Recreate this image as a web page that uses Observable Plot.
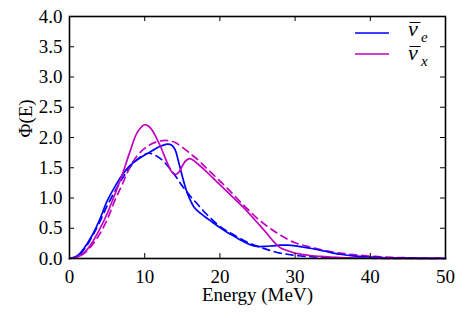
<!DOCTYPE html>
<html>
<head>
<meta charset="utf-8">
<script src="https://cdn.jsdelivr.net/npm/d3@7"></script>
<script src="https://cdn.jsdelivr.net/npm/@observablehq/plot@0.6"></script>
<style>
  body { margin: 0; background: #fff; font-family: "Liberation Serif", serif; }
  #wrap { position: relative; width: 463px; height: 324px; }
  #wrap svg text { font-family: "Liberation Serif", serif !important; }
  #legend { position: absolute; left: 0; top: 0; pointer-events: none; }
</style>
</head>
<body>
<div id="wrap"></div>
<script>
// ---- data ----
const xTicks = [0, 10, 20, 30, 40, 50];
const yTicks = [0, 0.5, 1, 1.5, 2, 2.5, 3, 3.5, 4];

// anti-electron neutrino, simulated spectrum (solid blue)
const nueSimE   = [0,1,2,3,4,5,6,7,8,9,10,11,12,13,13.5,14,14.5,15,15.5,16,16.5,17,18,19,20,21,22,23,24,25,26,27,28,29,30,31,32,34,36,38,40,42,45,50];
const nueSimPhi = [0,0.04,0.18,0.38,0.64,0.95,1.18,1.38,1.53,1.63,1.71,1.78,1.85,1.89,1.88,1.81,1.60,1.36,1.14,0.98,0.86,0.79,0.69,0.60,0.51,0.43,0.36,0.29,0.23,0.20,0.20,0.21,0.22,0.22,0.21,0.19,0.17,0.12,0.07,0.04,0.025,0.012,0.005,0];

// anti-electron neutrino, fit (dashed blue)
const nueFitE   = [0,1,2,3,4,5,6,7,8,9,10,10.5,11,12,13,14,15,16,17,18,19,20,21,22,23,24,25,26,27,28,29,30,32,34,36,40,45,50];
const nueFitPhi = [0,0.03,0.16,0.36,0.60,0.87,1.10,1.32,1.50,1.64,1.72,1.74,1.73,1.66,1.54,1.38,1.20,1.04,0.90,0.76,0.64,0.53,0.45,0.38,0.31,0.25,0.20,0.16,0.12,0.09,0.07,0.05,0.03,0.02,0.01,0.004,0,0];

// heavy-lepton anti-neutrino, simulated spectrum (solid magenta)
const nuxSimE   = [0,1,2,3,4,5,6,7,8,9,10,10.5,11,12,13,13.5,14,14.5,15,15.5,16,16.5,17,18,19,20,21,22,23,24,25,26,27,28,29,30,32,34,36,40,45,50];
const nuxSimPhi = [0,0.02,0.10,0.26,0.48,0.74,1.05,1.38,1.75,2.08,2.21,2.19,2.12,1.88,1.58,1.45,1.39,1.42,1.53,1.62,1.65,1.62,1.57,1.46,1.34,1.22,1.10,0.98,0.86,0.73,0.59,0.45,0.30,0.18,0.13,0.09,0.05,0.03,0.015,0.005,0,0];

// heavy-lepton anti-neutrino, fit (dashed magenta)
const nuxFitE   = [0,1,2,3,4,5,6,7,8,9,10,11,12,13,14,15,16,17,18,19,20,21,22,23,24,25,26,27,28,29,30,31,32,34,36,38,40,42,45,50];
const nuxFitPhi = [0,0.02,0.09,0.22,0.40,0.64,0.95,1.22,1.50,1.70,1.82,1.90,1.94,1.95,1.92,1.84,1.74,1.64,1.52,1.40,1.28,1.16,1.03,0.90,0.78,0.66,0.56,0.47,0.39,0.32,0.26,0.22,0.19,0.13,0.09,0.06,0.04,0.025,0.012,0.004];

const legendSubs = ["e", "x"];
const blue = "#0000ff", magenta = "#bf00bf";

const toRows = (E, P) => E.map((e, i) => ({E: e, phi: P[i]}));
const nueSim = toRows(nueSimE, nueSimPhi);
const nueFit = toRows(nueFitE, nueFitPhi);
const nuxSim = toRows(nuxSimE, nuxSimPhi);
const nuxFit = toRows(nuxFitE, nuxFitPhi);

const W = 463, H = 324, mL = 69, mR = 18, mT = 16, mB = 66;
const innerW = W - mL - mR, innerH = H - mT - mB;
const tickLen = 5;
const FONT = "Liberation Serif";

const chart = Plot.plot({
  width: W, height: H,
  marginLeft: mL, marginRight: mR, marginTop: mT, marginBottom: mB,
  style: "font-family: 'Liberation Serif', serif; font-size: 19px;",
  x: {domain: [0, 50]},
  y: {domain: [0, 4]},
  marks: [
    Plot.line(nueFit, {x: "E", y: "phi", stroke: blue, strokeWidth: 1.7, strokeDasharray: "7,5", curve: "catmull-rom"}),
    Plot.line(nuxFit, {x: "E", y: "phi", stroke: magenta, strokeWidth: 1.7, strokeDasharray: "7,5", curve: "catmull-rom"}),
    Plot.line(nueSim, {x: "E", y: "phi", stroke: blue, strokeWidth: 1.7, curve: "catmull-rom"}),
    Plot.line(nuxSim, {x: "E", y: "phi", stroke: magenta, strokeWidth: 1.7, curve: "catmull-rom"}),
    // inward ticks on all four sides
    Plot.tickX(xTicks, {x: d => d, insetTop: innerH - tickLen, stroke: "black", strokeWidth: 1}),
    Plot.tickX(xTicks, {x: d => d, insetBottom: innerH - tickLen, stroke: "black", strokeWidth: 1}),
    Plot.tickY(yTicks, {y: d => d, insetRight: innerW - tickLen, stroke: "black", strokeWidth: 1}),
    Plot.tickY(yTicks, {y: d => d, insetLeft: innerW - tickLen, stroke: "black", strokeWidth: 1}),
    Plot.frame({stroke: "black", strokeWidth: 1.6}),
    Plot.axisX(xTicks, {tickSize: 0, tickPadding: 11, label: null, tickFormat: d => String(d), fontSize: 19, fontVariant: "normal"}),
    Plot.axisY(yTicks, {tickSize: 0, tickPadding: 7, label: null, tickFormat: d => d.toFixed(1), fontSize: 19, fontVariant: "normal"}),
    Plot.text(["Energy (MeV)"], {frameAnchor: "bottom", dy: 42, fontSize: 19, letterSpacing: "0.6px"}),
    Plot.text(["\u03a6(E)"], {frameAnchor: "left", dx: -44, rotate: -90, fontSize: 19})
  ]
});

chart.setAttribute("font-family", FONT);
chart.querySelectorAll("text").forEach(el => el.setAttribute("font-family", FONT));

const wrap = document.getElementById("wrap");
wrap.appendChild(chart);

// legend overlay (SVG)
const ns = "http://www.w3.org/2000/svg";
const leg = document.createElementNS(ns, "svg");
leg.setAttribute("id", "legend");
leg.setAttribute("width", W);
leg.setAttribute("height", H);
const legendRows = [
  {color: blue, lineY: 33, overY: 22.5, nuBase: 36, subBase: 42, sub: legendSubs[0]},
  {color: magenta, lineY: 54, overY: 46.5, nuBase: 60, subBase: 66, sub: legendSubs[1]}
];
legendRows.forEach(r => {
  const ln = document.createElementNS(ns, "line");
  ln.setAttribute("x1", 355); ln.setAttribute("x2", 389);
  ln.setAttribute("y1", r.lineY); ln.setAttribute("y2", r.lineY);
  ln.setAttribute("stroke", r.color); ln.setAttribute("stroke-width", 1.7);
  leg.appendChild(ln);
  const t = document.createElementNS(ns, "text");
  t.setAttribute("x", 408); t.setAttribute("y", r.nuBase);
  t.setAttribute("font-family", FONT);
  t.setAttribute("font-style", "italic");
  t.setAttribute("font-size", 22);
  t.textContent = "\u03bd";
  leg.appendChild(t);
  const ol = document.createElementNS(ns, "line");
  ol.setAttribute("x1", 409.5); ol.setAttribute("x2", 420.5);
  ol.setAttribute("y1", r.overY); ol.setAttribute("y2", r.overY);
  ol.setAttribute("stroke", "black"); ol.setAttribute("stroke-width", 1);
  leg.appendChild(ol);
  const s = document.createElementNS(ns, "text");
  s.setAttribute("x", 421); s.setAttribute("y", r.subBase);
  s.setAttribute("font-family", FONT);
  s.setAttribute("font-style", "italic");
  s.setAttribute("font-size", 15);
  s.textContent = r.sub;
  leg.appendChild(s);
});
wrap.appendChild(leg);
</script>
</body>
</html>
